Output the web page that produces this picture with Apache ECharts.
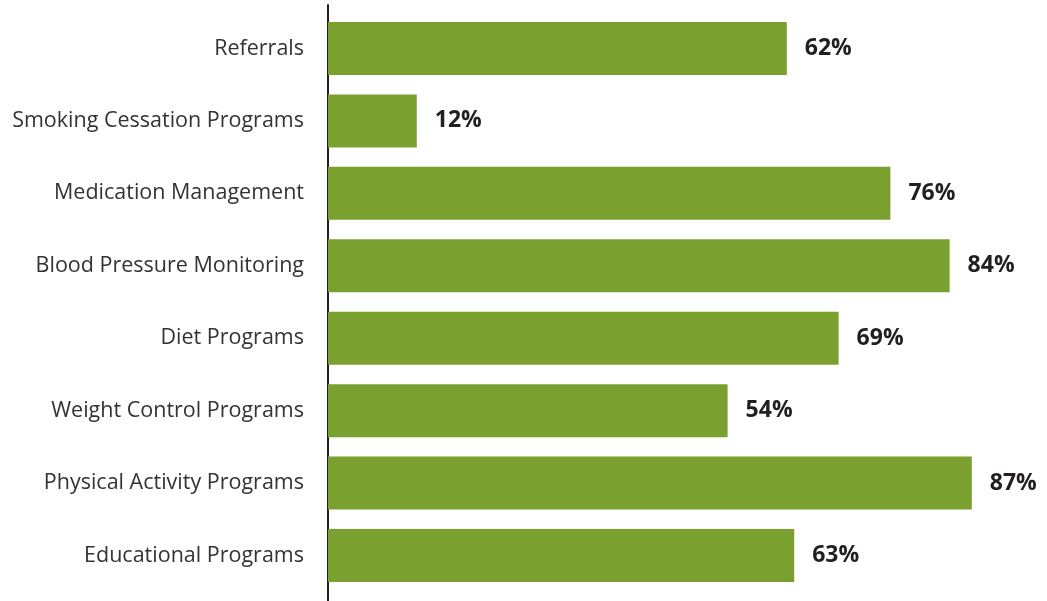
<!DOCTYPE html>
<html>
<head>
<meta charset="utf-8">
<script src="https://cdn.jsdelivr.net/npm/echarts@6/dist/echarts.min.js"></script>
<style>
  html, body { margin: 0; padding: 0; background: #fff; }
  #chart { width: 1047px; height: 601px; }
</style>
</head>
<body>
<div id="chart"></div>
<script>
var categories = ['Educational Programs', 'Physical Activity Programs', 'Weight Control Programs', 'Diet Programs',
  'Blood Pressure Monitoring', 'Medication Management', 'Smoking Cessation Programs', 'Referrals'];
var values = [63, 87, 54, 69, 84, 76, 12, 62];

var myChart = echarts.init(document.getElementById('chart'));
var font = '"Open Sans", "Noto Sans", sans-serif';

var option = {
  animation: false,
  grid: [
    { left: 328, right: 16, top: 12.3, bottom: 9.3 },
    // only used for the vertical axis line, which runs past the bars
    { left: 328, right: 16, top: 5, bottom: 0 }
  ],
  xAxis: [
    { type: 'value', min: 0, max: 95, show: false, gridIndex: 0 },
    { type: 'value', min: 0, max: 1, show: false, gridIndex: 1 }
  ],
  yAxis: [
    {
      type: 'category',
      data: categories,
      gridIndex: 0,
      axisLine: { show: false },
      axisTick: { show: false },
      axisLabel: { fontFamily: font, fontSize: 21.5, color: '#333', margin: 24 }
    },
    {
      type: 'value',
      gridIndex: 1,
      min: 0, max: 1,
      axisLine: { show: true, lineStyle: { color: '#231f20', width: 2 } },
      axisTick: { show: false },
      axisLabel: { show: false },
      splitLine: { show: false }
    }
  ],
  series: [{
    type: 'bar',
    data: values,
    barWidth: 53,
    itemStyle: { color: '#7aa02f' },
    label: {
      show: true,
      position: 'right',
      distance: 18,
      formatter: '{c}%',
      fontFamily: font,
      fontSize: 23,
      fontWeight: 'bold',
      color: '#231f20'
    }
  }]
};
myChart.setOption(option);
</script>
</body>
</html>
